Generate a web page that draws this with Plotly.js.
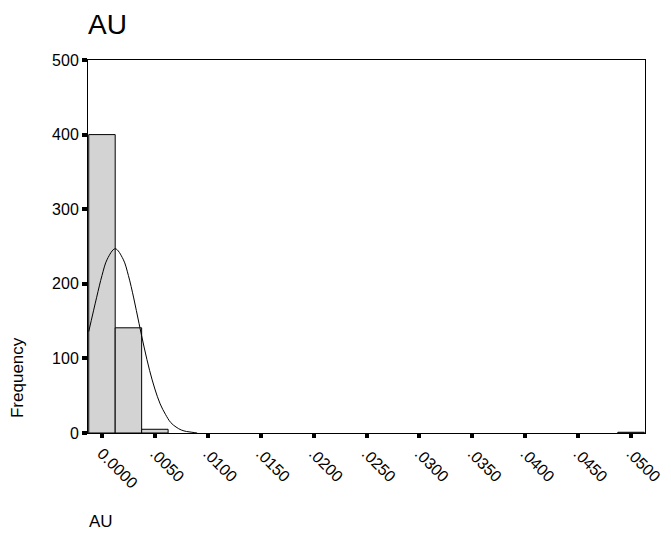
<!DOCTYPE html>
<html>
<head>
<meta charset="utf-8">
<script src="https://cdn.plot.ly/plotly-3.0.1.min.js"></script>
<style>html,body{margin:0;padding:0;background:#fff;}#chart{width:671px;height:535px;}</style>
</head>
<body>
<div id="chart"></div>
<script>
// Histogram bins (centres), bin width and counts
const binCenters = [0.0000, 0.0025, 0.0050, 0.0500];
const binCounts = [400, 141, 5, 1];
const binWidth = 0.0025;

// Normal curve points
const curveX = [-0.00125, -0.0005, 0.0, 0.0005, 0.00125, 0.002, 0.0025, 0.003, 0.0035, 0.004, 0.0045, 0.005, 0.0055, 0.006, 0.0065, 0.007, 0.0075, 0.008, 0.0085, 0.009];
const curveY = [136, 182, 211, 233, 247, 233, 211, 181, 147, 114, 84, 59, 39, 25, 14, 8, 4, 2, 1, 0];

// Tick labels
const xTickVals = [0, 0.005, 0.01, 0.015, 0.02, 0.025, 0.03, 0.035, 0.04, 0.045, 0.05];
const xTickText = ["0.0000", ".0050", ".0100", ".0150", ".0200", ".0250", ".0300", ".0350", ".0400", ".0450", ".0500"];
const yTickVals = [0, 100, 200, 300, 400, 500];
const yTickText = ["0", "100", "200", "300", "400", "500"];

const FONT = "Liberation Sans, Arial, sans-serif";

const traces = [
  {
    type: "bar",
    x: binCenters,
    y: binCounts,
    width: binCenters.map(() => binWidth),
    marker: {color: "#d3d3d3", line: {color: "#000", width: 1}},
    hoverinfo: "skip"
  },
  {
    type: "scatter",
    mode: "lines",
    x: curveX,
    y: curveY,
    line: {color: "#000", width: 1, shape: "spline"},
    hoverinfo: "skip"
  }
];

const layout = {
  width: 671,
  height: 535,
  paper_bgcolor: "#fff",
  plot_bgcolor: "#fff",
  showlegend: false,
  margin: {l: 88, r: 26, t: 60, b: 102, pad: 0},
  font: {family: FONT, color: "#000", size: 16},
  xaxis: {
    range: [-0.00132, 0.05132],
    tickvals: xTickVals,
    ticktext: xTickText,
    tickangle: 45,
    ticks: "outside",
    ticklen: 4,
    tickwidth: 4,
    tickcolor: "#000",
    tickfont: {family: FONT, size: 16, color: "#000"},
    showgrid: false,
    zeroline: false,
    showline: true,
    linecolor: "#000",
    linewidth: 1,
    mirror: true
  },
  yaxis: {
    range: [0, 500],
    tickvals: yTickVals,
    ticktext: yTickText,
    ticks: "outside",
    ticklen: 5,
    tickwidth: 4,
    tickcolor: "#000",
    tickfont: {family: FONT, size: 16, color: "#000"},
    showgrid: false,
    zeroline: false,
    showline: true,
    linecolor: "#000",
    linewidth: 1,
    mirror: true
  },
  annotations: [
    {
      text: "AU",
      xref: "paper", yref: "paper",
      x: -0.003, y: 1.0965,
      xanchor: "left", yanchor: "middle",
      showarrow: false,
      font: {family: FONT, size: 28, color: "#000"}
    },
    {
      text: "Frequency",
      xref: "paper", yref: "paper",
      x: -0.1275, y: 0.15,
      xanchor: "center", yanchor: "middle",
      textangle: -90,
      showarrow: false,
      font: {family: FONT, size: 17, color: "#000"}
    },
    {
      text: "AU",
      xref: "paper", yref: "paper",
      x: -0.002, y: -0.2386,
      xanchor: "left", yanchor: "middle",
      showarrow: false,
      font: {family: FONT, size: 17, color: "#000"}
    }
  ]
};

Plotly.newPlot("chart", traces, layout, {displayModeBar: false, staticPlot: true});
</script>
</body>
</html>
